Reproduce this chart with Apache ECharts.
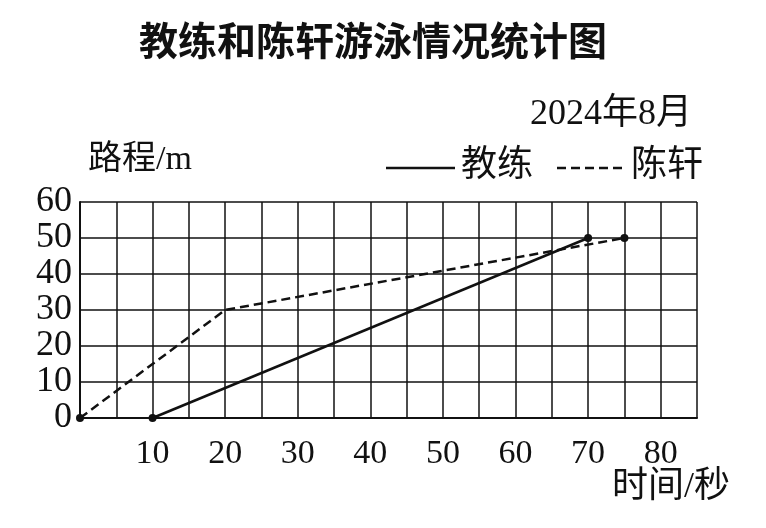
<!DOCTYPE html>
<html lang="zh-CN" style="height: 100%">
<head>
  <meta charset="utf-8">
  <style>
    body { margin: 0; background: #fff; }
    #container { width: 766px; height: 528px; }
  </style>
</head>
<body>
  <div id="container"></div>
  <script src="https://cdn.jsdelivr.net/npm/echarts@6/dist/echarts.min.js"></script>
  <script>
    // 教练
    var coachTime = [10, 70]
    var coachDist = [0, 50]
    // 陈轩
    var chenTime = [0, 20, 75]
    var chenDist = [0, 30, 50]
    var xTickLabels = [10, 20, 30, 40, 50, 60, 70, 80]

    var serif = '"Liberation Serif", "Noto Sans CJK SC", serif'
    var ink = '#111'

    function pairs(xs, ys) {
      return xs.map(function (x, i) { return [x, ys[i]] })
    }
    function endDots(len) {
      return function (v, p) { return (p.dataIndex === 0 || p.dataIndex === len - 1) ? 8 : 0 }
    }

    var myChart = echarts.init(document.getElementById('container'), null, { renderer: 'canvas' })

    var option = {
      backgroundColor: '#fff',
      animation: false,
      title: {
        text: '教练和陈轩游泳情况统计图',
        left: 134,
        top: 16,
        textStyle: { fontFamily: 'Noto Sans CJK SC', fontSize: 39, fontWeight: 'bold', color: ink }
      },
      grid: { left: 80, right: 69, top: 202, bottom: 110 },
      xAxis: {
        type: 'value',
        min: 0, max: 85, interval: 5,
        axisLine: { lineStyle: { color: ink, width: 2 } },
        axisTick: { show: false },
        splitLine: { show: true, lineStyle: { color: ink, width: 1.5 } },
        axisLabel: {
          margin: 19,
          color: ink,
          fontFamily: serif,
          fontSize: 34,
          formatter: function (v) { return xTickLabels.indexOf(v) >= 0 ? String(v) : '' }
        }
      },
      yAxis: {
        type: 'value',
        min: 0, max: 60, interval: 10,
        axisLine: { show: true, lineStyle: { color: ink, width: 2 } },
        axisTick: { show: false },
        splitLine: { show: true, lineStyle: { color: ink, width: 1.5 } },
        axisLabel: { margin: 8, color: ink, fontFamily: serif, fontSize: 36 }
      },
      graphic: [
        { type: 'text', left: 530, top: 97, style: { text: '2024年8月', font: '36px ' + serif, fill: ink } },
        { type: 'text', left: 88, top: 143, style: { text: '路程/m', font: '34px ' + serif, fill: ink } },
        { type: 'line', shape: { x1: 386, y1: 168, x2: 455, y2: 168 }, style: { stroke: ink, lineWidth: 2.5 } },
        { type: 'text', left: 461, top: 149, style: { text: '教练', font: '36px ' + serif, fill: ink } },
        { type: 'line', shape: { x1: 557, y1: 168, x2: 625, y2: 168 }, style: { stroke: ink, lineWidth: 2.5, lineDash: [9, 5] } },
        { type: 'text', left: 631, top: 149, style: { text: '陈轩', font: '36px ' + serif, fill: ink } },
        { type: 'text', left: 612, top: 470, style: { text: '时间/秒', font: '36px ' + serif, fill: ink } }
      ],
      series: [
        {
          name: '教练',
          type: 'line',
          data: pairs(coachTime, coachDist),
          symbol: 'circle',
          symbolSize: endDots(coachTime.length),
          itemStyle: { color: ink },
          lineStyle: { color: ink, width: 2.5 },
          z: 5
        },
        {
          name: '陈轩',
          type: 'line',
          data: pairs(chenTime, chenDist),
          symbol: 'circle',
          symbolSize: endDots(chenTime.length),
          itemStyle: { color: ink },
          lineStyle: { color: ink, width: 2.5, type: [9, 5] },
          z: 5
        }
      ]
    }

    myChart.setOption(option)
    window.addEventListener('resize', myChart.resize)
  </script>
</body>
</html>
